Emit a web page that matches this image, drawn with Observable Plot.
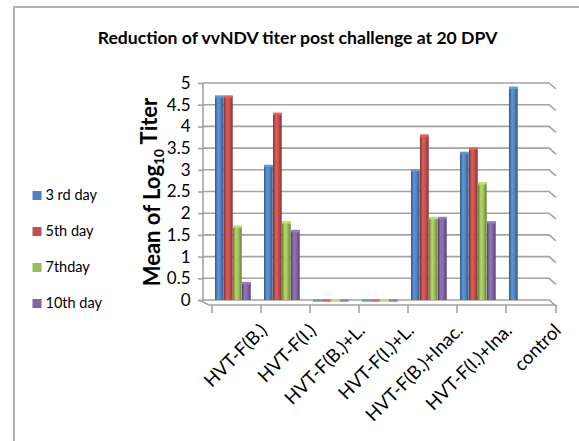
<!DOCTYPE html>
<html>
<head>
<meta charset="utf-8">
<script src="https://cdn.jsdelivr.net/npm/d3@7"></script>
<script src="https://cdn.jsdelivr.net/npm/@observablehq/plot@0.6"></script>
<style>
  html, body { margin: 0; padding: 0; background: #fff; }
  #wrap { position: relative; width: 579px; height: 441px; overflow: hidden; background: #fff; }
  #border { position: absolute; left: 13px; top: 6px; width: 640px; height: 520px; border: 2px solid #b2b2b2; box-sizing: border-box; }
  #chart { position: absolute; left: 0; top: 0; }
</style>
</head>
<body>
<div id="wrap"><div id="border"></div><div id="chart"></div></div>
<script>
const title = "Reduction of vvNDV titer post challenge at 20 DPV";
const yLabel = "Mean of Log10 Titer";
const categories = ["HVT-F(B.)", "HVT-F(I.)", "HVT-F(B.)+L.", "HVT-F(I.)+L.", "HVT-F(B.)+Inac.", "HVT-F(I.)+Ina.", "control"];
const series = ["3 rd day", "5th day", "7thday", "10th day"];
const day3  = [4.7, 3.1, 0, 0, 3.0, 3.4, 4.9];
const day5  = [4.7, 4.3, 0, 0, 3.8, 3.5, null];
const day7  = [1.7, 1.8, 0, 0, 1.9, 2.7, null];
const day10 = [0.4, 1.6, 0, 0, 1.9, 1.8, null];
const yTicks = [0, 0.5, 1, 1.5, 2, 2.5, 3, 3.5, 4, 4.5, 5];
const colors = ["#4F81BD", "#C0504D", "#9BBB59", "#8064A2"];

const values = [day3, day5, day7, day10];
const rows = categories.flatMap((c, i) => series.map((s, j) => ({cat: c, series: s, v: values[j][i]})))
  .filter(d => d.v != null);

const W = 579, H = 441, ML = 204, MR = 30, MT = 83, MB = 141;
const step = (W - ML - MR) / categories.length;
const off = 10, bw = 9;
const font = "Lato, 'Open Sans', sans-serif";

const decor = (index, scales, vals, dims) => {
  const xl = dims.marginLeft - 1, xr = dims.width - dims.marginRight;
  const g = d3.create("svg:g").attr("fill", "none").attr("stroke", "#a3a3a3").attr("stroke-width", 1.6);
  const y0 = scales.y(0);
  for (const t of yTicks) {
    const yy = scales.y(t);
    g.append("path").attr("d", `M${xl},${yy}H${xr}l7,6`);
  }
  g.append("path").attr("d", `M${xl},${scales.y(yTicks[yTicks.length - 1])}V${y0}`);
  g.append("path").attr("d", `M${xl - 4},${y0}l10,5H${xr + 7}`);
  const xs = categories.map(c => scales.x(c) + 7).concat([xr + 7]);
  for (const x of xs) g.append("path").attr("d", `M${x},${y0 + 5}v8`);
  return g.node();
};

const barMarks = series.flatMap((s, j) => {
  const data = rows.filter(d => d.series === s);
  const il = off + j * bw, ir = step - off - (j + 1) * bw;
  return [
    Plot.barY(data, {x: "cat", y: "v", fill: `url(#cyl${j})`, insetLeft: il, insetRight: ir}),
    Plot.tickY(data, {x: "cat", y: "v", stroke: d3.rgb(colors[j]).brighter(0.5).formatHex(), strokeWidth: 2.5, insetLeft: il, insetRight: ir})
  ];
});

const legendMarks = series.flatMap((s, j) => [
  Plot.dot([s], {frameAnchor: "top-left", dx: 36.5 - ML, dy: 112 + 36 * j, symbol: "square", r: 5.1, fill: colors[j], stroke: "none"}),
  Plot.text([s], {frameAnchor: "top-left", dx: 45 - ML, dy: 112 + 36 * j, text: d => d, textAnchor: "start", lineAnchor: "middle", fontSize: 14.5, fill: "#000"})
]);

const plot = Plot.plot({
  width: W, height: H,
  marginLeft: ML, marginRight: MR, marginTop: MT, marginBottom: MB,
  style: {background: "transparent", fontFamily: font, color: "#000", overflow: "visible"},
  x: {domain: categories, padding: 0, axis: null},
  y: {domain: [0, 5], ticks: yTicks, axis: null},
  marks: [
    decor,
    Plot.axisY(yTicks, {tickSize: 6, tickPadding: 8, fontSize: 17, label: null, stroke: "#a3a3a3", strokeWidth: 1.6, tickFormat: d => String(d)}),
    Plot.axisX({tickSize: 0, tickRotate: -45, tickPadding: 0, dx: 34, dy: 27, fontSize: 18.5, label: null}),
    ...barMarks,
    Plot.text([title], {frameAnchor: "top", dx: 297 - (ML + (W - MR)) / 2, dy: 38 - MT, lineAnchor: "middle", fontSize: 17.6, fontWeight: "bold", fill: "#000"}),
    Plot.text([yLabel], {frameAnchor: "left", dx: -52, rotate: -90, textAnchor: "middle", lineAnchor: "middle", fontSize: 22, fontWeight: "bold", fill: "#000"}),
    ...legendMarks
  ]
});

const svg = d3.select(plot);
const defs = svg.insert("defs", ":first-child");
colors.forEach((c, j) => {
  const g = defs.append("linearGradient").attr("id", `cyl${j}`).attr("x1", 0).attr("x2", 1).attr("y1", 0).attr("y2", 0);
  const dark = d3.rgb(c).darker(1.1).formatHex(), light = d3.rgb(c).brighter(0.45).formatHex();
  g.append("stop").attr("offset", "0%").attr("stop-color", dark);
  g.append("stop").attr("offset", "35%").attr("stop-color", light);
  g.append("stop").attr("offset", "65%").attr("stop-color", c);
  g.append("stop").attr("offset", "100%").attr("stop-color", dark);
});
svg.selectAll("text").filter(function() { return this.textContent === yLabel; }).each(function() {
  const t = d3.select(this);
  t.text(null);
  t.append("tspan").text("Mean of Log");
  t.append("tspan").attr("dy", "0.3em").attr("font-size", "0.62em").text("10");
  t.append("tspan").attr("dy", "-0.3em").text(" Titer");
});
document.getElementById("chart").append(plot);
</script>
</body>
</html>
